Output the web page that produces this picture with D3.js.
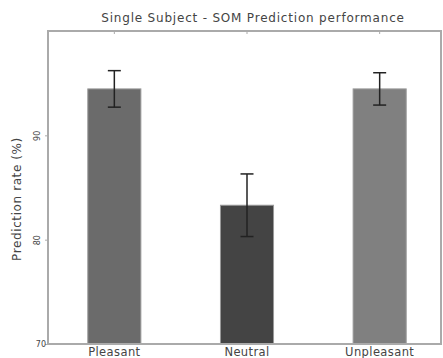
<!DOCTYPE html>
<html><head><meta charset="utf-8">
<script src="https://cdn.jsdelivr.net/npm/d3@7"></script>
<style>body{margin:0;background:#fff}svg{display:block}text{font-family:"DejaVu Sans",sans-serif}</style>
</head><body>
<script>
const categories = ["Pleasant", "Neutral", "Unpleasant"];
const values = [94.45, 83.3, 94.45];
const errors = [1.75, 3.0, 1.55];
const colors = ["#6b6b6b", "#444444", "#808080"];
const yTicks = [70, 80, 90];

const W = 443, H = 358;
const m = {left: 48, right: 2, top: 31, bottom: 14};
const svg = d3.select("body").append("svg").attr("width", W).attr("height", H);

const x = d3.scaleBand().domain(categories).range([m.left, 446]).paddingInner(0.6).paddingOuter(0.3);
const y = d3.scaleLinear().domain([70, 100]).range([H - m.bottom, m.top]);

const data = categories.map((c, i) => ({c, v: values[i], e: errors[i], col: colors[i]}));

svg.selectAll("rect.bar").data(data).enter().append("rect")
  .attr("class", "bar")
  .attr("x", d => x(d.c)).attr("width", x.bandwidth())
  .attr("y", d => y(d.v)).attr("height", d => y(70) - y(d.v))
  .attr("fill", d => d.col).attr("stroke", "#999").attr("stroke-width", 1);

const eb = svg.selectAll("g.err").data(data).enter().append("g").attr("stroke", "#222").attr("stroke-width", 1.5);
eb.append("line").attr("x1", d => x(d.c) + x.bandwidth() / 2).attr("x2", d => x(d.c) + x.bandwidth() / 2)
  .attr("y1", d => y(d.v - d.e)).attr("y2", d => y(d.v + d.e));
eb.append("line").attr("x1", d => x(d.c) + x.bandwidth() / 2 - 6.5).attr("x2", d => x(d.c) + x.bandwidth() / 2 + 6.5)
  .attr("y1", d => y(d.v + d.e)).attr("y2", d => y(d.v + d.e));
eb.append("line").attr("x1", d => x(d.c) + x.bandwidth() / 2 - 6.5).attr("x2", d => x(d.c) + x.bandwidth() / 2 + 6.5)
  .attr("y1", d => y(d.v - d.e)).attr("y2", d => y(d.v - d.e));

// frame
svg.append("rect").attr("x", m.left).attr("y", m.top)
  .attr("width", W - m.right - m.left).attr("height", y(70) - m.top)
  .attr("fill", "none").attr("stroke", "#aaa").attr("stroke-width", 2);

// y axis
const ya = svg.append("g").attr("transform", `translate(${m.left},0)`)
  .call(d3.axisLeft(y).tickValues(yTicks).tickSize(3).tickFormat(d3.format("d")));
ya.select(".domain").remove();
ya.selectAll("line").attr("stroke", "#aaa");
ya.selectAll("text").attr("font-size", 8).attr("fill", "#444")
  .each(function(d) {
    const t = d3.select(this);
    if (d === 70) {
      t.attr("transform", null).attr("x", -2).attr("y", 2).attr("dy", "0").attr("text-anchor", "end");
    } else {
      t.attr("transform", "rotate(-90)").attr("x", 0).attr("y", -8).attr("dy", "0").attr("text-anchor", "middle");
    }
  });

// x axis
const xa = svg.append("g").attr("transform", `translate(0,${y(70)})`)
  .call(d3.axisBottom(x).tickSize(0).tickPadding(0));
xa.select(".domain").remove();
xa.selectAll("text").attr("font-size", 11.5).attr("letter-spacing", 0.4).attr("fill", "#444").attr("dy", "0").attr("y", 12);

// top ticks
svg.selectAll("line.tt").data(categories).enter().append("line")
  .attr("x1", d => x(d) + x.bandwidth() / 2).attr("x2", d => x(d) + x.bandwidth() / 2)
  .attr("y1", m.top).attr("y2", m.top + 3).attr("stroke", "#aaa");

svg.append("text").attr("x", 253).attr("y", 22).attr("text-anchor", "middle")
  .attr("font-size", 12).attr("letter-spacing", 0.8).attr("fill", "#444").text("Single Subject - SOM Prediction performance");

svg.append("text").attr("transform", `translate(21,199) rotate(-90)`)
  .attr("text-anchor", "middle").attr("font-size", 12).attr("letter-spacing", 0.6).attr("fill", "#444").text("Prediction rate (%)");
</script>
</body></html>
